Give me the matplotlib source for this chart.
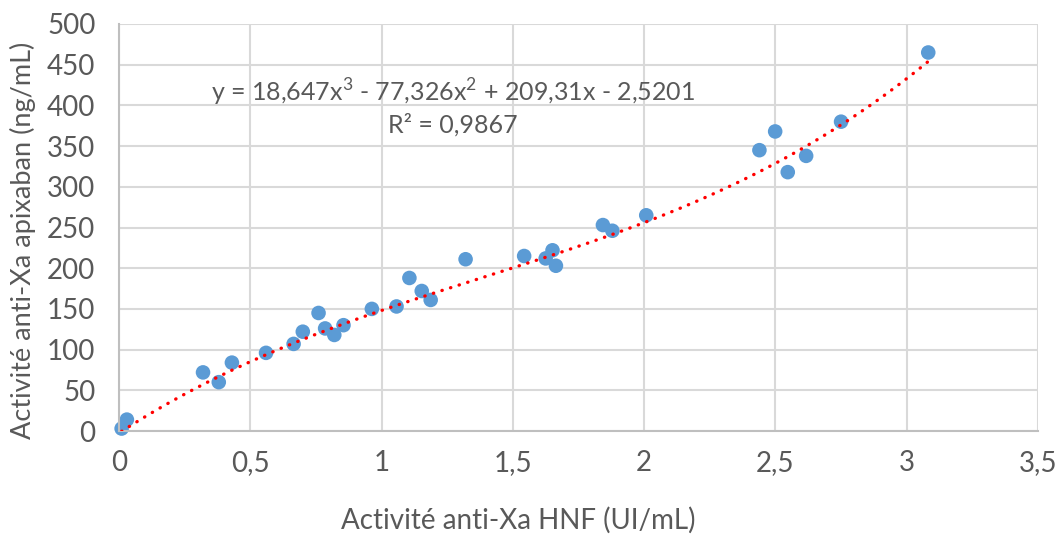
import numpy as np
import matplotlib
matplotlib.use('Agg')
import matplotlib.pyplot as plt

# data
hnf = [0.01, 0.03, 0.32, 0.38, 0.43, 0.56, 0.665, 0.70, 0.76, 0.785, 0.82, 0.855,
       0.963, 1.057, 1.106, 1.153, 1.187, 1.32, 1.543, 1.625, 1.651, 1.664,
       1.843, 1.879, 2.008, 2.439, 2.499, 2.547, 2.617, 2.75, 3.082]
apixaban = [3, 14, 72, 60, 84, 96, 107, 122, 145, 126, 118, 130,
            150, 153, 188, 172, 161, 211, 215, 212, 222, 203,
            253, 246, 265, 345, 368, 318, 338, 380, 465]

# trendline coefficients (as printed on the chart)
coefs = [18.647, -77.326, 209.31, -2.5201]
eq_text = 'y = 18,647x$^3$ - 77,326x$^2$ + 209,31x - 2,5201'
r2_text = 'R² = 0,9867'

xticks = [0, 0.5, 1, 1.5, 2, 2.5, 3, 3.5]
xtick_labels = ['0', '0,5', '1', '1,5', '2', '2,5', '3', '3,5']
yticks = list(range(0, 501, 50))

plt.rcParams['font.family'] = ['Lato', 'DejaVu Sans']
plt.rcParams['mathtext.fontset'] = 'custom'
plt.rcParams['mathtext.rm'] = 'Lato'
txt = '#595959'

W, H = 1060, 536
fig = plt.figure(figsize=(W / 100, H / 100), dpi=100)
ax = fig.add_axes([119 / W, 1 - 431 / H, (1038 - 119) / W, (431 - 24) / H])

ax.set_xlim(0, 3.5)
ax.set_ylim(0, 500)
ax.set_xticks(xticks)
ax.set_xticklabels(xtick_labels)
ax.set_yticks(yticks)
ax.grid(True, color='#D9D9D9', linewidth=1.5)
ax.set_axisbelow(True)
for s in ['top', 'right']:
    ax.spines[s].set_visible(False)
for s in ['left', 'bottom']:
    ax.spines[s].set_color('#BFBFBF')
    ax.spines[s].set_linewidth(1.5)
ax.tick_params(length=0, labelsize=20, labelcolor=txt)
ax.tick_params(axis='x', pad=14)
ax.tick_params(axis='y', pad=17)

xs = np.linspace(min(hnf), max(hnf) + 0.02, 200)
ax.plot(xs, np.polyval(coefs, xs), color='#FF0000', linewidth=2.4,
        linestyle=(0, (0.1, 2.6)), dash_capstyle='round', zorder=3)
ax.scatter(hnf, apixaban, s=110, color='#5B9BD5', edgecolors='none', zorder=2,
           clip_on=False)

fig.text(453 / W, 1 - 92 / H, eq_text, ha='center', va='center', fontsize=18, color=txt)
fig.text(453 / W, 1 - 125 / H, r2_text, ha='center', va='center', fontsize=18, color=txt)

fig.text(518 / W, 1 - 520 / H, 'Activité anti-Xa HNF (UI/mL)', ha='center', va='center',
         fontsize=20, color=txt)
fig.text(23 / W, 1 - 240 / H, 'Activité anti-Xa apixaban (ng/mL)', ha='center', va='center',
         rotation=90, fontsize=19.5, color=txt)

fig.savefig('out.png', dpi=100)
